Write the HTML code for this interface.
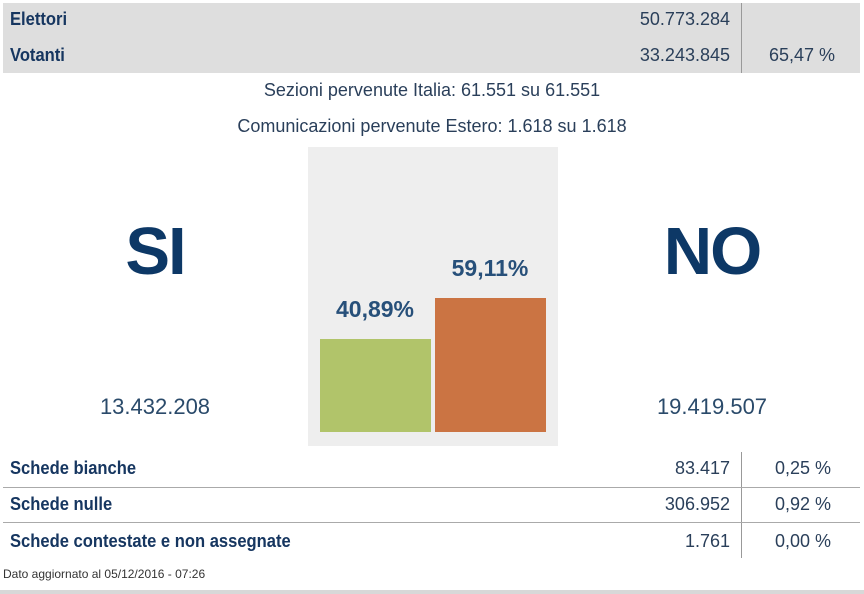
<!DOCTYPE html>
<html><head><meta charset="utf-8"><style>
body{margin:0;width:864px;height:594px;background:#fff;position:relative;overflow:hidden;font-family:"Liberation Sans Narrow","Liberation Sans",sans-serif;color:#1b3a5c}
.a{position:absolute;white-space:nowrap}
.b{font-weight:bold;font-size:18px;color:#163660;transform:scaleX(0.92);transform-origin:left}
.n{font-size:18px;color:#2a3f5a}
.r{text-align:right}
.c{text-align:center}
</style></head><body>
<div class="a" style="left:3px;top:3px;width:857px;height:70px;background:#dedede"></div>
<div class="a" style="left:741px;top:3px;width:1px;height:70px;background:#999"></div>
<div class="a b" style="left:10px;top:9px">Elettori</div>
<div class="a n r" style="left:530px;width:200px;top:9px">50.773.284</div>
<div class="a b" style="left:10px;top:45px">Votanti</div>
<div class="a n r" style="left:530px;width:200px;top:45px">33.243.845</div>
<div class="a n" style="left:769px;top:45px">65,47 %</div>
<div class="a n c" style="left:0;width:864px;top:80px">Sezioni pervenute Italia: 61.551 su 61.551</div>
<div class="a n c" style="left:0;width:864px;top:116px">Comunicazioni pervenute Estero: 1.618 su 1.618</div>
<div class="a" style="left:308px;top:147px;width:250px;height:299px;background:#eeeeee"></div>
<div class="a" style="left:320px;top:339px;width:111px;height:93px;background:#b1c46a"></div>
<div class="a" style="left:435px;top:298px;width:111px;height:134px;background:#cb7443"></div>
<div class="a c" style="left:315px;width:120px;top:296px;font-size:23px;font-weight:bold;color:#27507a">40,89%</div>
<div class="a c" style="left:430px;width:120px;top:255px;font-size:23px;font-weight:bold;color:#27507a">59,11%</div>
<div class="a c" style="left:55px;width:200px;top:213px;font-size:67px;font-weight:bold;color:#0d3866;letter-spacing:-2px">SI</div>
<div class="a c" style="left:612px;width:200px;top:213px;font-size:67px;font-weight:bold;color:#0d3866;letter-spacing:-2px">NO</div>
<div class="a c" style="left:55px;width:200px;top:394px;font-size:22px;color:#2a4a6a">13.432.208</div>
<div class="a c" style="left:612px;width:200px;top:394px;font-size:22px;color:#2a4a6a">19.419.507</div>
<div class="a" style="left:741px;top:452px;width:1px;height:106px;background:#999"></div>
<div class="a" style="left:3px;top:487px;width:857px;height:1px;background:#aaa"></div>
<div class="a" style="left:3px;top:522px;width:857px;height:1px;background:#aaa"></div>
<div class="a b" style="left:10px;top:458px">Schede bianche</div>
<div class="a n r" style="left:530px;width:200px;top:458px">83.417</div>
<div class="a n" style="left:775px;top:458px">0,25 %</div>
<div class="a b" style="left:10px;top:494px">Schede nulle</div>
<div class="a n r" style="left:530px;width:200px;top:494px">306.952</div>
<div class="a n" style="left:775px;top:494px">0,92 %</div>
<div class="a b" style="left:10px;top:531px">Schede contestate e non assegnate</div>
<div class="a n r" style="left:530px;width:200px;top:531px">1.761</div>
<div class="a n" style="left:775px;top:531px">0,00 %</div>
<div class="a" style="left:3px;top:567px;font-size:12px;color:#333">Dato aggiornato al 05/12/2016 - 07:26</div>
<div class="a" style="left:0;top:590px;width:864px;height:4px;background:#d8d8d8"></div>
</body></html>
